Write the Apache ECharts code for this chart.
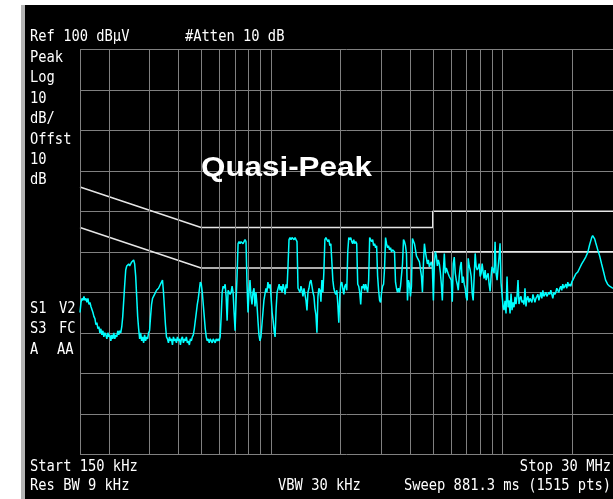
<!DOCTYPE html>
<html>
<head>
<meta charset="utf-8">
<script src="https://cdn.jsdelivr.net/npm/echarts@6/dist/echarts.min.js"></script>
<style>
    html, body { margin: 0; padding: 0; background: #fff; }
    #wrap { position: relative; width: 613px; height: 499px; background: #fff; overflow: hidden; }
    #bar { position: absolute; left: 21px; top: 5px; width: 4px; height: 494px; background: #b4b4b4; }
    #panel { position: absolute; left: 25px; top: 5px; width: 588px; height: 494px; background: #000; }
    #chart { position: absolute; left: 0; top: 0; width: 613px; height: 499px; }
</style>
</head>
<body>
<div id="wrap">
    <div id="bar"></div>
    <div id="panel"></div>
    <div id="chart"></div>
</div>
<script>
    // sweep: frequency (kHz) and level (dBµV)
    var freqKHz = [
        150, 151.5, 153, 154.5, 156, 157.6, 159.2, 160.7, 162.3, 164,
        165.6, 167.2, 168.9, 170.6, 172.3, 174, 175.7, 177.4, 179.2, 181,
        182.8, 184.6, 186.4, 188.3, 190.1, 192, 193.9, 195.9, 197.8, 199.8,
        201.8, 203.8, 205.8, 207.8, 209.9, 212, 214.1, 216.2, 218.4, 220.5,
        222.7, 224.9, 227.2, 229.4, 231.7, 234, 236.3, 238.7, 241, 243.4,
        245.8, 248.3, 250.8, 253.2, 255.7, 258.3, 260.9, 263.5, 266.1, 268.7,
        271.4, 274.1, 276.8, 279.5, 282.3, 285.1, 287.9, 290.8, 293.7, 296.6,
        299.5, 302.5, 305.5, 308.5, 311.6, 314.7, 317.8, 321, 324.2, 327.4,
        330.6, 333.9, 337.2, 340.6, 344, 347.4, 350.8, 354.3, 357.8, 361.4,
        365, 368.6, 372.3, 376, 379.7, 383.5, 387.3, 391.2, 395, 399,
        403, 407, 411, 415.1, 419.2, 423.4, 427.6, 431.8, 436.1, 440.4,
        444.8, 449.2, 453.7, 458.2, 462.7, 467.3, 472, 476.7, 481.4, 486.2,
        491, 495.9, 500.8, 505.8, 510.8, 515.9, 521, 526.2, 531.4, 536.7,
        542, 547.4, 552.8, 558.3, 563.8, 569.4, 575.1, 580.8, 586.6, 592.4,
        598.3, 604.2, 610.2, 616.3, 622.4, 628.6, 634.8, 641.1, 647.5, 653.9,
        660.4, 667, 673.6, 680.3, 687, 693.9, 700.8, 707.7, 714.8, 721.9,
        729, 736.3, 743.6, 751, 758.5, 766, 773.6, 781.3, 789.1, 796.9,
        804.8, 812.8, 820.9, 829.1, 837.3, 845.6, 854, 862.5, 871.1, 879.7,
        888.5, 897.3, 906.2, 915.2, 924.3, 933.5, 942.8, 952.2, 961.6, 971.2,
        983, 993, 1003, 1013, 1023, 1033, 1043, 1054, 1064, 1075,
        1086, 1096, 1107, 1118, 1129, 1141, 1152, 1163, 1175, 1187,
        1198, 1210, 1222, 1235, 1247, 1259, 1272, 1284, 1297, 1310,
        1323, 1336, 1349, 1363, 1376, 1390, 1404, 1418, 1432, 1446,
        1461, 1475, 1490, 1505, 1520, 1535, 1550, 1565, 1581, 1597,
        1612, 1629, 1645, 1661, 1678, 1694, 1711, 1728, 1745, 1763,
        1780, 1798, 1816, 1834, 1852, 1870, 1889, 1908, 1927, 1946,
        1965, 1985, 2004, 2024, 2044, 2065, 2085, 2106, 2127, 2148,
        2170, 2191, 2213, 2235, 2257, 2280, 2302, 2325, 2348, 2372,
        2395, 2419, 2443, 2467, 2492, 2517, 2542, 2567, 2593, 2618,
        2644, 2671, 2697, 2724, 2751, 2778, 2806, 2834, 2862, 2890,
        2919, 2948, 2977, 3007, 3037, 3067, 3097, 3128, 3159, 3190,
        3222, 3254, 3286, 3319, 3352, 3385, 3419, 3453, 3487, 3522,
        3558, 3593, 3629, 3665, 3701, 3738, 3775, 3813, 3851, 3889,
        3928, 3967, 4006, 4046, 4086, 4127, 4168, 4209, 4251, 4293,
        4337, 4380, 4424, 4468, 4512, 4557, 4602, 4648, 4694, 4741,
        4788, 4836, 4884, 4932, 4981, 5031, 5081, 5131, 5182, 5234,
        5286, 5338, 5391, 5445, 5499, 5554, 5609, 5665, 5721, 5778,
        5836, 5894, 5952, 6011, 6071, 6131, 6192, 6254, 6316, 6379,
        6443, 6507, 6571, 6637, 6703, 6769, 6837, 6905, 6973, 7043,
        7113, 7184, 7255, 7327, 7400, 7473, 7548, 7623, 7698, 7775,
        7853, 7931, 8010, 8089, 8170, 8251, 8333, 8416, 8499, 8584,
        8670, 8756, 8843, 8931, 9019, 9109, 9200, 9291, 9384, 9477,
        9571, 9666, 9762, 9859, 9957, 10056, 10156, 10257, 10359, 10462,
        10570, 10675, 10781, 10889, 10997, 11106, 11216, 11328, 11440, 11555,
        11670, 11786, 11903, 12021, 12140, 12260, 12380, 12505, 12630, 12755,
        12880, 13010, 13140, 13270, 13400, 13535, 13670, 13805, 13940, 14080,
        14220, 14360, 14500, 14645, 14790, 14940, 15090, 15240, 15390, 15545,
        15700, 15855, 16010, 16170, 16330, 16495, 16660, 16825, 16990, 17160,
        17330, 17505, 17680, 17855, 18030, 18210, 18390, 18575, 18760, 18950,
        19140, 19330, 19520, 19715, 19910, 20110, 20310, 20710, 21130, 21550,
        21980, 22420, 22870, 23330, 23790, 24270, 24510, 24750, 25000, 25250,
        25750, 26270, 26790, 27330, 27870, 28430, 29000, 29580, 30000
    ];
    var levelDbuV = [
        35, 37.5, 38.5, 38, 39, 38, 38.5, 37.5, 38.5, 37,
        37.5, 36.5, 36.5, 35, 34, 33.5, 32, 32.5, 31, 31.5,
        30, 31, 29.5, 30.5, 29, 30, 29.5, 28.5, 30, 29,
        29.5, 28, 29.5, 28.5, 30, 28.5, 29.5, 29, 30.5, 29.5,
        30.5, 30, 31.5, 34, 38, 42, 45.5, 46.5, 46.5, 47,
        46.5, 47, 47.5, 47.5, 48, 47, 44, 39, 34, 31,
        28.5, 30, 28, 29, 27.5, 29.5, 28, 29, 28.5, 30,
        30.5, 34, 37, 38.5, 39, 39.5, 40, 40.5, 40.5, 41,
        41.5, 42, 42.5, 43, 40, 36, 32, 29, 28.5, 27.5,
        29, 28, 28.5, 27, 29, 28, 28.5, 27.5, 29, 28,
        28.5, 27, 28.5, 29, 27.5, 28.5, 28, 29, 27.5, 28,
        27, 28.5, 28, 29, 29.5, 31, 33, 35, 37, 38.5,
        40.5, 42.5, 42, 40, 37, 34, 31, 29, 28, 28.5,
        27.5, 28.5, 28, 27.5, 28.5, 28, 27.5, 28.5, 28, 28.5,
        28, 29, 34, 40, 41.5, 41, 42, 39, 33, 40.5,
        40.5, 39.5, 40, 41.5, 40, 35, 30.5, 38, 44, 52,
        52.5, 52, 52.5, 52.5, 52, 52.5, 53, 52.5, 42, 35,
        40, 43, 39, 37, 40, 41, 36.5, 40, 37, 33,
        29.5, 28, 29, 32, 35, 38, 39.5, 41, 40, 42.5,
        41, 42, 38.5, 35, 33, 30.5, 29, 36, 40, 41,
        42, 40.5, 41.5, 40, 42, 41, 39.5, 42, 41, 47,
        53, 53.5, 53, 53.5, 53.5, 53, 53.5, 53, 52.5, 41,
        40.5, 40, 41.5, 40.5, 39, 41, 39.5, 38, 35.5, 40,
        41, 42.5, 43, 41.5, 40, 39, 36, 34.5, 30, 39,
        41, 40.5, 37.7, 43, 40, 45, 53, 53.5, 53.5, 52.5,
        53, 51.5, 52, 52, 43, 41, 40, 39.5, 40.5, 37,
        32.5, 39, 42, 42.5, 41, 39.5, 41.5, 42, 40.5, 50,
        53.5, 53, 53.5, 52.5, 52, 53, 52, 52.5, 52, 42,
        41.5, 40, 37, 41.5, 41, 42, 40.5, 42, 41, 40,
        43, 53.5, 53, 52.5, 53, 51.5, 52, 51, 51.5, 44,
        40.5, 38, 37.5, 40, 41.5, 42, 46, 53.5, 52, 51,
        51.5, 50.5, 51, 50, 50.5, 50.5, 50, 42.5, 41, 40,
        41, 40, 41.5, 41.5, 47, 53, 52.5, 51.5, 49.5, 38,
        43, 42, 39, 41.5, 53.3, 53, 52, 50.6, 49, 48.5,
        48.2, 47.5, 47.2, 44, 40, 47, 52, 50, 48.5, 47,
        48, 46.3, 47, 47.5, 46, 38, 47, 50, 49, 46.5,
        48, 47, 45, 42, 38, 45, 49.6, 44.7, 46, 46.3,
        44.5, 43.9, 43.5, 43, 37.7, 47.1, 48.7, 44.7, 43, 42,
        40.5, 44, 46.3, 47.5, 42.3, 43.9, 42, 40.9, 38.8, 38,
        48.4, 46.5, 45.5, 43.9, 39.7, 38, 44, 49.6, 46.3, 45.5,
        46, 47.1, 43.9, 44.7, 47.1, 45, 43.4, 45.5, 43, 44,
        44.7, 42, 40.2, 44, 46.3, 45.5, 44.7, 52.5, 44.7, 43,
        46, 48.7, 52.1, 42.3, 39.5, 36.5, 35.6, 37.9, 34.8, 43.9,
        36.3, 38, 34.8, 39.7, 35.6, 37.5, 36.3, 38.9, 37.1, 39,
        43, 37.1, 38.5, 39, 37.5, 38, 37, 41, 36.5, 38.5,
        39, 37.5, 38.5, 38.5, 37.5, 39.5, 38.5, 37.5, 38.5, 39,
        39.5, 38, 39, 40, 38.5, 40.5, 39, 39.5, 40, 39,
        39.5, 40, 39.5, 40.5, 39.5, 38.5, 40, 39.5, 40, 41,
        40.5, 40, 41, 41.5, 40.5, 42, 41, 41.5, 42, 41,
        42.5, 41.5, 42, 41.5, 42.5, 42.5, 43.5, 44.5, 45, 46,
        47, 47.8, 48.7, 49.8, 51.8, 53.5, 54, 53.8, 53.2, 52.3,
        50.6, 49, 47, 45, 43, 42, 41.5, 41.5, 41
    ];

    // CISPR 22 class B conducted limits (quasi-peak and average)
    var qpLimitKHz = [150, 500, 5000, 5000, 30000];
    var qpLimitDb = [66, 56, 56, 60, 60];
    var avLimitKHz = [150, 500, 5000, 5000, 30000];
    var avLimitDb = [56, 46, 46, 50, 50];

    // log graticule columns
    var gridKHz = [150, 200, 300, 400, 500, 600, 700, 800, 900, 1000,
        2000, 3000, 4000, 5000, 6000, 7000, 8000, 9000, 10000, 20000, 30000];

    function pairs(xs, ys) {
        var out = [];
        for (var i = 0; i < xs.length; i++) out.push([xs[i], ys[i]]);
        return out;
    }

    var mono = '16px "DejaVu Sans Mono", monospace';
    function label(txt, x, y, align) {
        var a = align || 'left';
        return {
            type: 'text', x: x, y: y, scaleX: 0.86, z: 100,
            style: {
                text: txt, font: mono, fill: '#ffffff',
                textAlign: a, align: a,
                textVerticalAlign: 'middle', verticalAlign: 'middle'
            }
        };
    }

    var myChart = echarts.init(document.getElementById('chart'), null, {renderer: 'canvas'});
    myChart.setOption({
        backgroundColor: 'transparent',
        animation: false,
        grid: {left: 80, top: 49.3, width: 535.5, height: 405},
        xAxis: {
            type: 'log', logBase: 10, min: 150, max: 30000,
            axisLine: {show: false}, axisTick: {show: false},
            axisLabel: {show: false}, splitLine: {show: false}
        },
        yAxis: {
            type: 'value', min: 0, max: 100, interval: 10,
            axisLine: {show: false}, axisTick: {show: false}, axisLabel: {show: false},
            splitLine: {show: true, lineStyle: {color: '#808080', width: 1}}
        },
        series: [
            {
                name: 'graticule', type: 'line', data: [], silent: true, z: 1,
                markLine: {
                    silent: true, symbol: ['none', 'none'], animation: false,
                    label: {show: false},
                    lineStyle: {color: '#808080', width: 1, type: 'solid'},
                    emphasis: {disabled: true},
                    data: gridKHz.map(function (f) { return {xAxis: f}; })
                }
            },
            {
                name: 'QP limit', type: 'line', data: pairs(qpLimitKHz, qpLimitDb),
                showSymbol: false, silent: true, z: 2,
                lineStyle: {color: '#e6e6e6', width: 1.5}
            },
            {
                name: 'AV limit', type: 'line', data: pairs(avLimitKHz, avLimitDb),
                showSymbol: false, silent: true, z: 2,
                lineStyle: {color: '#e6e6e6', width: 1.5}
            },
            {
                name: 'Trace', type: 'line', data: pairs(freqKHz, levelDbuV),
                showSymbol: false, silent: true, z: 5,
                lineStyle: {color: '#00ffff', width: 1.5}
            }
        ],
        graphic: [
            label('Ref 100 dBµV', 30, 37),
            label('#Atten 10 dB', 185, 37),
            label('Peak', 30, 57.5),
            label('Log', 30, 78),
            label('10', 30, 98.5),
            label('dB/', 30, 119),
            label('Offst', 30, 139.5),
            label('10', 30, 160),
            label('dB', 30, 179.5),
            label('S1', 30, 308.5), label('V2', 59, 308.5),
            label('S3', 30, 329), label('FC', 59, 329),
            label('A', 30, 350), label('AA', 57, 350),
            label('Start 150 kHz', 30, 466.5),
            label('Stop 30 MHz', 611, 466.5, 'right'),
            label('Res BW 9 kHz', 30, 486),
            label('VBW 30 kHz', 278, 486),
            label('Sweep 881.3 ms (1515 pts)', 611, 486, 'right'),
            {
                type: 'text', x: 201, y: 168, scaleX: 1.12, z: 100,
                style: {
                    text: 'Quasi-Peak', font: 'bold 28px "Liberation Sans", Arial, sans-serif',
                    fill: '#ffffff', textAlign: 'left', align: 'left',
                    textVerticalAlign: 'middle', verticalAlign: 'middle'
                }
            }
        ]
    });
</script>
</body>
</html>
